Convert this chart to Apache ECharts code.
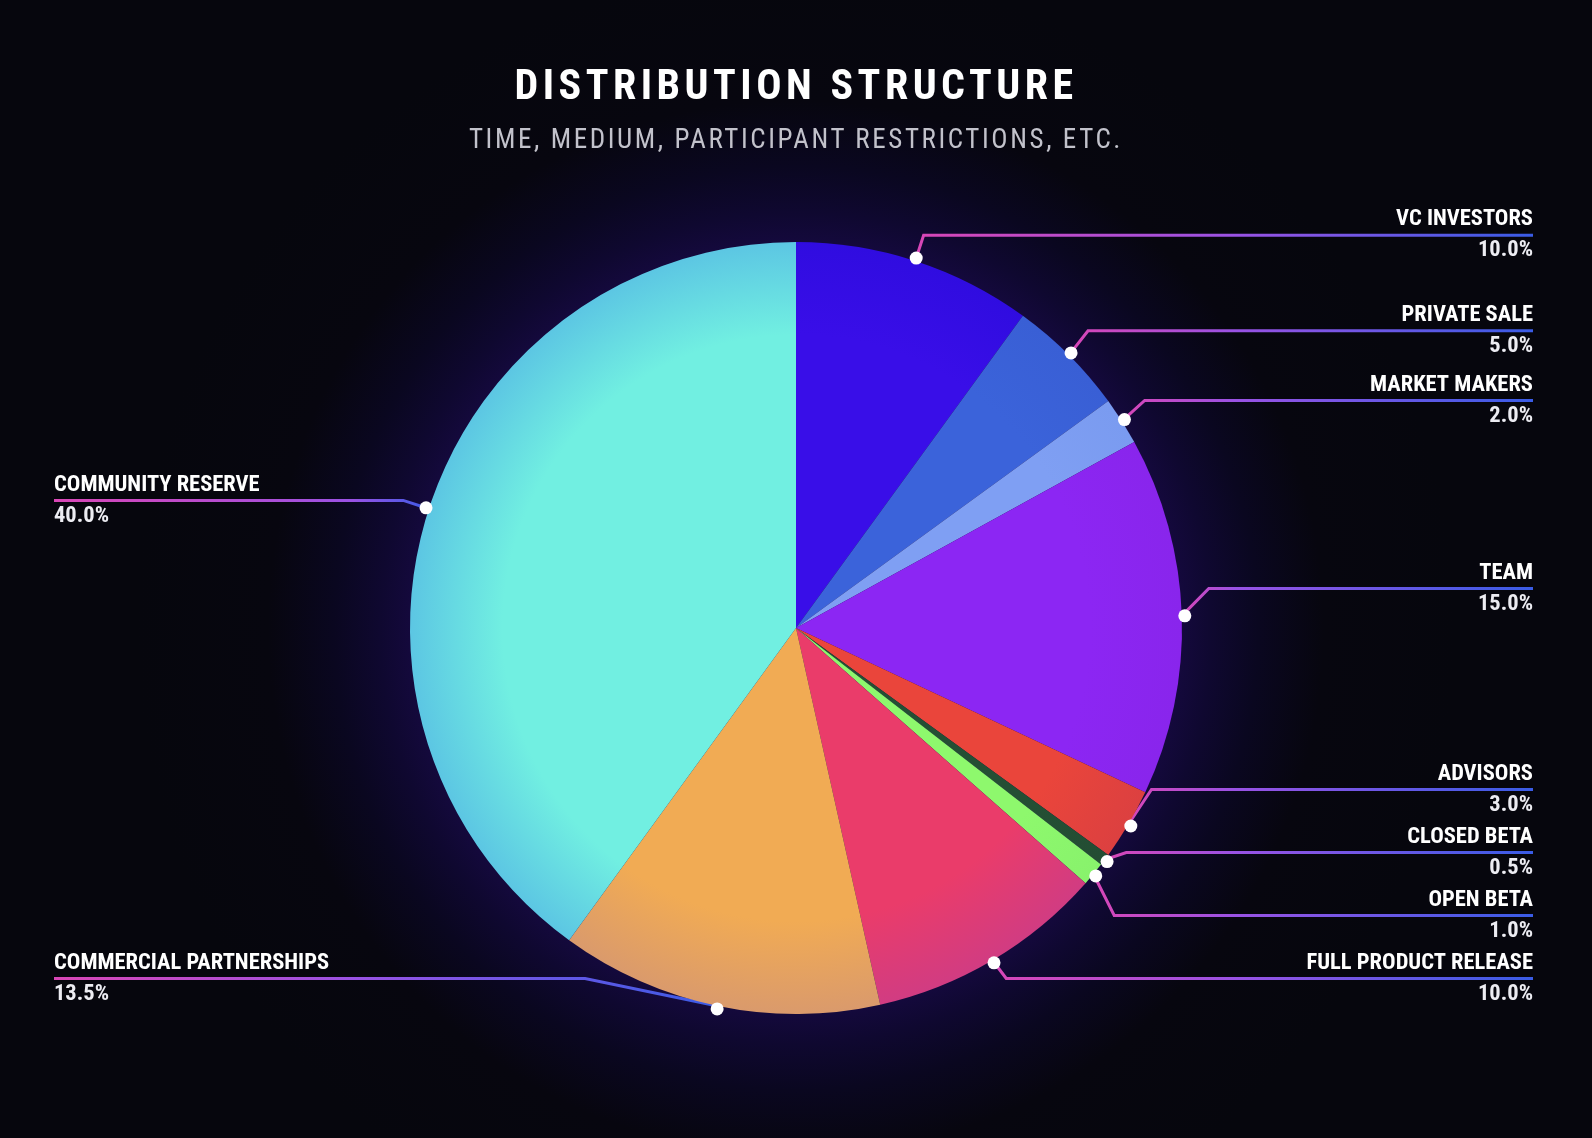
<!DOCTYPE html>
<html>
<head>
<meta charset="utf-8">
<title>Distribution Structure</title>
<script src="https://cdn.jsdelivr.net/npm/echarts@6/dist/echarts.min.js"></script>
<style>
html, body { margin: 0; padding: 0; background: #06060d; }
#main { width: 1592px; height: 1138px; }
.head {
    position: absolute; left: 0; width: 1592px; text-align: center;
    font-family: Roboto, "Open Sans", sans-serif; font-stretch: condensed;
}
#title { top: 64px; font-size: 42px; line-height: 42px; font-weight: bold; color: #ffffff; letter-spacing: 4.5px; }
#subtitle { top: 126px; font-size: 27px; line-height: 27px; color: #c2c2cb; letter-spacing: 2.6px; }
</style>
</head>
<body>
<div id="main"></div>
<div id="title" class="head">DISTRIBUTION STRUCTURE</div>
<div id="subtitle" class="head">TIME, MEDIUM, PARTICIPANT RESTRICTIONS, ETC.</div>
<script>
// slices, clockwise from the top
var categories = ['VC INVESTORS', 'PRIVATE SALE', 'MARKET MAKERS', 'TEAM', 'ADVISORS',
    'CLOSED BETA', 'OPEN BETA', 'FULL PRODUCT RELEASE', 'COMMERCIAL PARTNERSHIPS', 'COMMUNITY RESERVE'];
var shares = [10, 5, 2, 15, 3, 0.5, 1, 10, 13.5, 40];
var innerColors = ['#390ee8', '#3b63da', '#7f9ff3', '#8c26f3', '#ea453b',
    '#244f34', '#8ef86d', '#ea3c6a', '#f1ab54', '#71efe1'];
var outerColors = ['#300ce0', '#395fd5', '#7a9bf0', '#8925ec', '#dc4040',
    '#234d33', '#88f26c', '#d13c82', '#da9a6c', '#5cc6e3'];

var FONT = 'Roboto, "Open Sans", sans-serif';
var cx = 796, cy = 628, r = 386;
var pink = '#d946b6', violet = '#9a52e4', blue = '#3a5ce6';

var myChart = echarts.init(document.getElementById('main'));

function fill(i) {
    return new echarts.graphic.RadialGradient(cx, cy, r, [
        { offset: 0, color: innerColors[i] },
        { offset: 0.76, color: innerColors[i] },
        { offset: 1, color: outerColors[i] }
    ], true);
}

function grad(a, b) {
    return new echarts.graphic.LinearGradient(0, 0, 1, 0, [
        { offset: 0, color: a }, { offset: 1, color: b }
    ]);
}

function richFor(barColor) {
    return {
        name: { fontFamily: FONT, fontSize: 22.5, fontWeight: 'bold condensed', color: '#ffffff', lineHeight: 28 },
        bar: { width: '100%', height: 3, backgroundColor: barColor },
        val: { fontFamily: FONT, fontSize: 22.5, fontWeight: 'bold condensed', color: '#ececf2', lineHeight: 28 }
    };
}

var cum = 0;
var pieData = categories.map(function (name, i) {
    var mid = cum + shares[i] / 2;
    cum += shares[i];
    var onLeft = mid > 50;
    return {
        name: name,
        value: shares[i],
        itemStyle: { color: fill(i) },
        labelLine: { lineStyle: { color: onLeft ? grad(violet, blue) : grad(pink, violet) } },
        label: { rich: richFor(onLeft ? grad(pink, violet) : grad(violet, blue)) }
    };
});

var dotData = categories.map(function (name, i) {
    return { name: name, value: shares[i] };
});

var option = {
    backgroundColor: new echarts.graphic.RadialGradient(cx, cy, 660, [
        { offset: 0, color: '#170a44' },
        { offset: 0.585, color: '#14093c' },
        { offset: 0.63, color: '#0f0830' },
        { offset: 0.7, color: '#0a0720' },
        { offset: 0.8, color: '#07060f' },
        { offset: 1, color: '#06060d' }
    ], true),
    animation: false,
    series: [{
        type: 'pie',
        left: 0, right: 5, top: 0, bottom: 128,
        center: [cx, cy],
        radius: r,
        startAngle: 90,
        clockwise: true,
        z: 2,
        emphasis: { disabled: true },
        label: {
            show: true,
            alignTo: 'edge',
            edgeDistance: 54,
            distanceToLabelLine: 0,
            width: 300,
            padding: [1, 0],
            // invisible box so the whole label block counts when labels are spread
            backgroundColor: 'rgba(0,0,0,0)',
            fontFamily: FONT,
            formatter: function (p) {
                return '{name|' + p.name + '}\n{bar|}\n{val|' + p.value.toFixed(1) + '%}';
            }
        },
        labelLine: { show: true, length: 27, length2: 8, smooth: false, lineStyle: { width: 3 } },
        data: pieData
    }, {
        // white dots where each label line leaves the pie
        type: 'pie',
        silent: true,
        left: 0, right: 5, top: 0, bottom: 128,
        center: [cx, cy],
        radius: [r - 7, r + 7],
        startAngle: 90,
        z: 3,
        emphasis: { disabled: true },
        itemStyle: { color: 'rgba(0,0,0,0)' },
        label: {
            show: true,
            position: 'inside',
            formatter: '{dot|}',
            rich: { dot: { width: 13, height: 13, borderRadius: 7, backgroundColor: '#ffffff' } }
        },
        labelLine: { show: false },
        data: dotData
    }]
};

myChart.setOption(option);
</script>
</body>
</html>
